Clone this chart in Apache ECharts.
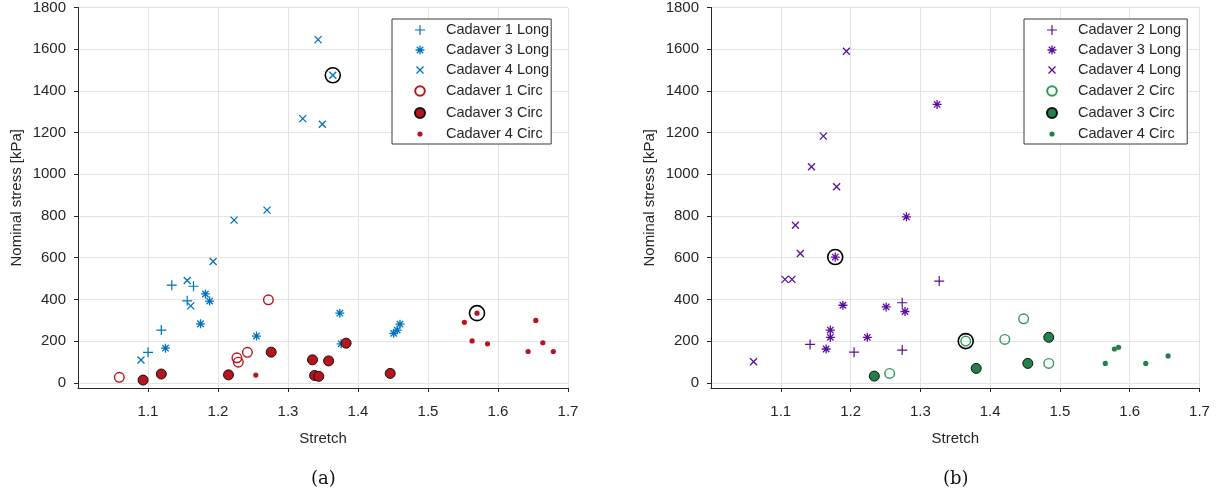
<!DOCTYPE html>
<html>
<head>
<meta charset="utf-8">
<script src="https://cdn.jsdelivr.net/npm/echarts@6/dist/echarts.min.js"></script>
<style>
html,body{margin:0;padding:0;background:#fff;}
#chart{width:1227px;height:497px;}
</style>
</head>
<body>
<div id="chart"></div>
<script>
// ---------- data ----------
const xTicks = [1.1, 1.2, 1.3, 1.4, 1.5, 1.6, 1.7];
const yTicks = [0, 200, 400, 600, 800, 1000, 1200, 1400, 1600, 1800];

// Panel (a)
const a_c1LongX = [1.100, 1.119, 1.134, 1.156, 1.165];
const a_c1LongY = [146, 253, 468, 393, 463];
const a_c3LongX = [1.125, 1.175, 1.182, 1.188, 1.255, 1.374, 1.376, 1.451, 1.456, 1.460];
const a_c3LongY = [166, 283, 426, 392, 224, 334, 187, 237, 253, 281];
const a_c4LongX = [1.090, 1.156, 1.161, 1.193, 1.223, 1.270, 1.321, 1.343, 1.349, 1.364];
const a_c4LongY = [109, 491, 369, 582, 780, 828, 1267, 1646, 1240, 1475];
const a_c1CircX = [1.059, 1.227, 1.229, 1.242, 1.272];
const a_c1CircY = [26, 120, 99, 146, 398];
const a_c3CircX = [1.093, 1.119, 1.215, 1.276, 1.335, 1.338, 1.344, 1.358, 1.383, 1.446];
const a_c3CircY = [13, 42, 38, 147, 110, 35, 31, 105, 190, 45];
const a_c4CircX = [1.254, 1.552, 1.563, 1.570, 1.585, 1.643, 1.654, 1.664, 1.679];
const a_c4CircY = [37, 290, 201, 334, 187, 150, 299, 192, 150];
const a_highX = [1.364, 1.570];
const a_highY = [1475, 334];

// Panel (b)
const b_c2LongX = [1.142, 1.205, 1.274, 1.274, 1.327];
const b_c2LongY = [184, 147, 384, 157, 488];
const b_c3LongX = [1.165, 1.171, 1.171, 1.178, 1.189, 1.224, 1.251, 1.278, 1.280, 1.324];
const b_c3LongY = [162, 218, 253, 603, 372, 218, 364, 342, 796, 1335];
const b_c4LongX = [1.061, 1.106, 1.116, 1.121, 1.128, 1.144, 1.161, 1.180, 1.194];
const b_c4LongY = [101, 496, 496, 756, 620, 1036, 1183, 940, 1590];
const b_c2CircX = [1.256, 1.365, 1.421, 1.448, 1.484];
const b_c2CircY = [45, 200, 208, 307, 93];
const b_c3CircX = [1.234, 1.380, 1.454, 1.484];
const b_c3CircY = [32, 69, 93, 218];
const b_c4CircX = [1.565, 1.578, 1.584, 1.623, 1.655];
const b_c4CircY = [93, 162, 170, 93, 129];
const b_highX = [1.178, 1.365];
const b_highY = [603, 200];

const legendA = ['Cadaver 1 Long', 'Cadaver 3 Long', 'Cadaver 4 Long', 'Cadaver 1 Circ', 'Cadaver 3 Circ', 'Cadaver 4 Circ'];
// names in panel (b) that repeat panel (a) names carry a trailing space to keep series distinct
const legendB = ['Cadaver 2 Long', 'Cadaver 3 Long ', 'Cadaver 4 Long ', 'Cadaver 2 Circ', 'Cadaver 3 Circ ', 'Cadaver 4 Circ '];

// ---------- styling ----------
const BLUE = '#0072BD', RED = '#B8141F', PURPLE = '#5A0F9C', GREEN = '#22804A', GREEN_O = '#2E9A5A';
const AX = '#262626', GRID = '#e3e3e3';
const FONT = "'Liberation Sans', Arial, sans-serif";

const PAD = 'M0,0L0,0M16,16L16,16 ';
const SYM = {
  plus: 'path://' + PAD + 'M7.4,3h1.2v10h-1.2z M3,7.4h10v1.2h-10z',
  cross: 'path://' + PAD + 'M4.96,4.04L11.96,11.04L11.04,11.96L4.04,4.96Z M11.04,4.04L11.96,4.96L4.96,11.96L4.04,11.04Z',
  star: 'path://' + PAD + 'M7.35,3.5h1.3v9h-1.3z M3.5,7.35h9v1.3h-9z M5.26,4.34L11.66,10.74L10.74,11.66L4.34,5.26Z M10.74,4.34L11.66,5.26L5.26,11.66L4.34,10.74Z',
  open: 'path://' + PAD + 'M8,3.2A4.8,4.8 0 1,1 8,12.8A4.8,4.8 0 1,1 8,3.2Z',
  fill: 'path://' + PAD + 'M8,3A5,5 0 1,1 8,13A5,5 0 1,1 8,3Z',
  dot: 'path://' + PAD + 'M8,5.4A2.6,2.6 0 1,1 8,10.6A2.6,2.6 0 1,1 8,5.4Z'
};

function pts(xs, ys) { return xs.map((x, i) => [x, ys[i]]); }
function ser(name, idx, xs, ys, symbol, style, z) {
  return {
    type: 'scatter', name: name, xAxisIndex: idx, yAxisIndex: idx,
    data: pts(xs, ys), symbol: symbol, symbolSize: 16,
    itemStyle: Object.assign({ opacity: 1 }, style), z: z || 2, silent: true,
    emphasis: { disabled: true }
  };
}
function ring(idx, xs, ys) {
  return {
    type: 'scatter', name: 'highlight', xAxisIndex: idx, yAxisIndex: idx,
    data: pts(xs, ys), symbol: 'circle', symbolSize: 15,
    itemStyle: { color: 'rgba(0,0,0,0)', borderColor: '#000', borderWidth: 1.6, opacity: 1 },
    z: 5, silent: true, emphasis: { disabled: true }
  };
}

function xAx(idx) {
  return {
    type: 'value', gridIndex: idx, min: 1.0, max: 1.7,
    name: 'Stretch', nameLocation: 'middle', nameGap: 43,
    nameTextStyle: { fontFamily: FONT, fontSize: 15, color: AX },
    axisLine: { show: true, onZero: false, lineStyle: { color: AX, width: 1 } },
    axisTick: { show: true, inside: false, length: 4, lineStyle: { color: AX }, customValues: xTicks },
    axisLabel: { customValues: xTicks, margin: 16, fontFamily: FONT, fontSize: 15, color: AX,
      formatter: v => v.toFixed(1) },
    splitLine: { show: true, lineStyle: { color: GRID, width: 1 } }
  };
}
function yAx(idx) {
  return {
    type: 'value', gridIndex: idx, min: -25, max: 1800,
    name: 'Nominal stress [kPa]', nameLocation: 'middle', nameGap: 54,
    nameTextStyle: { fontFamily: FONT, fontSize: 15, color: AX },
    axisLine: { show: true, onZero: false, lineStyle: { color: AX, width: 1 } },
    axisTick: { show: true, inside: false, length: 4, lineStyle: { color: AX }, customValues: yTicks },
    axisLabel: { customValues: yTicks, margin: 12, fontFamily: FONT, fontSize: 15, color: AX,
      formatter: v => String(Math.round(v)) },
    splitLine: { show: true, lineStyle: { color: GRID, width: 1 } }
  };
}
function leg(names, left) {
  return {
    show: true, orient: 'vertical', left: left, top: 19,
    data: names,
    itemWidth: 42, itemHeight: 16, itemGap: 4,
    padding: [3, 2, 2, 19],
    backgroundColor: '#fff', borderColor: '#3a3a3a', borderWidth: 1, borderRadius: 0,
    textStyle: { fontFamily: FONT, fontSize: 14.5, color: AX },
    selectedMode: false
  };
}

const chart = echarts.init(document.getElementById('chart'), null, { renderer: 'canvas' });

const seriesA = [
  ser(legendA[0], 0, a_c1LongX, a_c1LongY, SYM.plus, { color: BLUE, borderWidth: 0 }),
  ser(legendA[1], 0, a_c3LongX, a_c3LongY, SYM.star, { color: BLUE, borderWidth: 0 }),
  ser(legendA[2], 0, a_c4LongX, a_c4LongY, SYM.cross, { color: BLUE, borderWidth: 0 }),
  ser(legendA[3], 0, a_c1CircX, a_c1CircY, SYM.open, { color: 'rgba(0,0,0,0)', borderColor: RED, borderWidth: 1.4 }),
  ser(legendA[4], 0, a_c3CircX, a_c3CircY, SYM.fill, { color: RED, borderColor: '#111', borderWidth: 1 }, 3),
  ser(legendA[5], 0, a_c4CircX, a_c4CircY, SYM.dot, { color: RED, borderWidth: 0 }),
  ring(0, a_highX, a_highY)
];
const seriesB = [
  ser(legendB[0], 1, b_c2LongX, b_c2LongY, SYM.plus, { color: PURPLE, borderWidth: 0 }),
  ser(legendB[1], 1, b_c3LongX, b_c3LongY, SYM.star, { color: PURPLE, borderWidth: 0 }),
  ser(legendB[2], 1, b_c4LongX, b_c4LongY, SYM.cross, { color: PURPLE, borderWidth: 0 }),
  ser(legendB[3], 1, b_c2CircX, b_c2CircY, SYM.open, { color: 'rgba(0,0,0,0)', borderColor: GREEN_O, borderWidth: 1.4 }),
  ser(legendB[4], 1, b_c3CircX, b_c3CircY, SYM.fill, { color: GREEN, borderColor: '#111', borderWidth: 1 }, 3),
  ser(legendB[5], 1, b_c4CircX, b_c4CircY, SYM.dot, { color: GREEN, borderWidth: 0 }),
  ring(1, b_highX, b_highY)
];

const option = {
  animation: false,
  backgroundColor: '#fff',
  textStyle: { fontFamily: FONT },
  grid: [
    { left: 78, top: 7, width: 490, height: 381, containLabel: false },
    { left: 711, top: 7, width: 488.5, height: 381, containLabel: false }
  ],
  xAxis: [xAx(0), xAx(1)],
  yAxis: [yAx(0), yAx(1)],
  legend: [
    leg(legendA, 392),
    leg(legendB, 1024)
  ],
  graphic: [
    { type: 'text', left: 311, top: 470, style: { text: '(a)', font: "18px 'DejaVu Serif', serif", fill: '#111' } },
    { type: 'text', left: 943, top: 470, style: { text: '(b)', font: "18px 'DejaVu Serif', serif", fill: '#111' } }
  ],
  series: seriesA.concat(seriesB)
};
chart.setOption(option);
</script>
</body>
</html>
